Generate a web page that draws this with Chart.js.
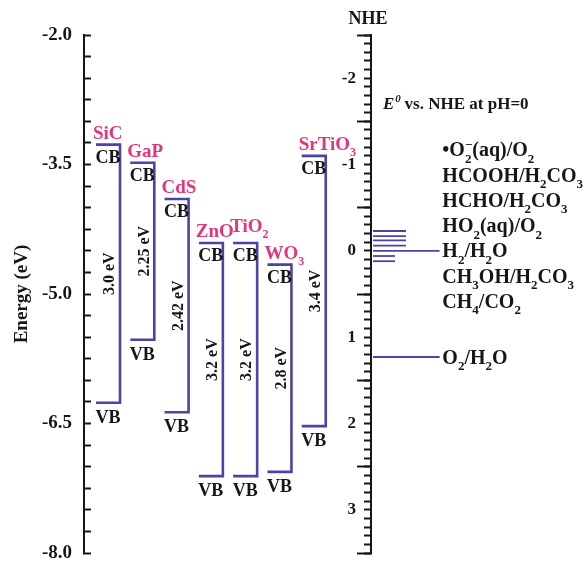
<!DOCTYPE html>
<html>
<head>
<meta charset="utf-8">
<script src="https://cdn.jsdelivr.net/npm/chart.js@4.4.0/dist/chart.umd.min.js"></script>
<style>
  html, body { margin: 0; padding: 0; background: #fff; }
  #wrap { width: 588px; height: 562px; }
</style>
</head>
<body>
<div id="wrap"><canvas id="bands"></canvas></div>
<script>
// band edges (eV vs vacuum)
var materials = ["SiC", "GaP", "CdS", "ZnO", "TiO_2", "WO_3", "SrTiO_3"];
var cbEdge = [-3.27, -3.48, -3.9, -4.41, -4.41, -4.66, -3.4];
var vbEdge = [-6.26, -5.53, -6.37, -7.11, -7.11, -7.06, -6.53];
var gapLabels = ["3.0 eV", "2.25 eV", "2.42 eV", "3.2 eV", "3.2 eV", "2.8 eV", "3.4 eV"];

// redox couples, E0 vs NHE at pH=0
var couples = ["•O_2^−(aq)/O_2", "HCOOH/H_2CO_3", "HCHO/H_2CO_3", "HO_2(aq)/O_2", "H_2/H_2O", "CH_3OH/H_2CO_3", "CH_4/CO_2", "O_2/H_2O"];
var potentials = [-0.23, -0.17, -0.12, -0.06, 0, 0.06, 0.12, 1.23];

var energyTicks = [-2.0, -3.5, -5.0, -6.5, -8.0];
var nheTicks = [-2, -1, 0, 1, 2, 3];

// layout (x in band slots)
var BAND_L = 0.35, BAND_W = 0.7;
var X_NHE = 8.37;
var X_LABEL = 10.45;
var LABEL_STEP = 0.293;

var BLUE = "#4a43a8";
var PINK = "#e4357b";
var INK = "#161616";
var SERIF = "'Liberation Serif', 'Times New Roman', serif";

function parseRich(str) {
  var out = [], i = 0;
  while (i < str.length) {
    var c = str[i];
    if ((c === "_" || c === "^") && i + 1 < str.length) {
      out.push({ t: str[i + 1], k: c === "_" ? "sub" : "sup" });
      i += 2;
    } else {
      if (out.length && out[out.length - 1].k === "n") out[out.length - 1].t += c;
      else out.push({ t: c, k: "n" });
      i++;
    }
  }
  return out;
}

function richText(ctx, str, x, y, size, color, align, subRatio) {
  var parts = parseRich(str);
  var big = "bold " + size + "px " + SERIF;
  var small = "bold " + Math.round(size * (subRatio || 0.62)) + "px " + SERIF;
  var cx = 0;
  parts.forEach(function (p, j) {
    ctx.font = p.k === "n" ? big : small;
    p.w = ctx.measureText(p.t).width;
    var prev = parts[j - 1];
    if (p.k === "sup" && prev && prev.k === "sub") {
      p.x = prev.x;
      cx = Math.max(prev.x + prev.w, p.x + p.w);
    } else {
      p.x = cx;
      cx += p.w;
    }
  });
  var x0 = align === "center" ? x - cx / 2 : align === "right" ? x - cx : x;
  var base = y + size * 0.33;
  ctx.fillStyle = color;
  ctx.textAlign = "left";
  ctx.textBaseline = "alphabetic";
  parts.forEach(function (p) {
    ctx.font = p.k === "n" ? big : small;
    var dy = p.k === "sub" ? size * 0.32 : p.k === "sup" ? -size * 0.38 : 0;
    ctx.fillText(p.t, x0 + p.x, base + dy);
  });
}

var zeroIdx = potentials.indexOf(0);
function labelLevel(i) {
  return Math.abs(potentials[i]) < 0.5 ? (i - zeroIdx) * LABEL_STEP : potentials[i];
}

var bandSets = materials.map(function (m, i) {
  var l = i + BAND_L, r = l + BAND_W;
  return {
    label: m,
    data: [
      { x: l, y: cbEdge[i] },
      { x: r, y: cbEdge[i] },
      { x: r, y: vbEdge[i] },
      { x: l, y: vbEdge[i] },
    ],
    yAxisID: "y",
    borderColor: BLUE,
    borderWidth: 2.6,
    borderJoinStyle: "miter",
    pointRadius: 0,
    fill: false,
    tension: 0,
    clip: false,
  };
});

var redoxSets = couples.map(function (c, i) {
  var v = potentials[i], t = labelLevel(i);
  var pts = [{ x: X_NHE + 0.06, y: v }];
  if (t !== v) pts.push({ x: v < 0 ? 9.39 : 9.07, y: v });
  pts.push({ x: X_LABEL - 0.08, y: t });
  return {
    label: c,
    data: pts,
    yAxisID: "y2",
    borderColor: BLUE,
    borderWidth: 1.8,
    pointRadius: 0,
    fill: false,
    tension: 0,
    clip: false,
  };
});

var annotate = {
  id: "annotate",
  afterDatasetsDraw: function (chart) {
    var ctx = chart.ctx, xs = chart.scales.x, ye = chart.scales.y, yn = chart.scales.y2;
    ctx.save();
    materials.forEach(function (m, i) {
      var l = i + BAND_L, r = l + BAND_W;
      var xl = xs.getPixelForValue(l), xr = xs.getPixelForValue(r), xc = (xl + xr) / 2;
      var yc = ye.getPixelForValue(cbEdge[i]), yv = ye.getPixelForValue(vbEdge[i]);
      richText(ctx, m, xl - 3, yc - (m === "TiO_2" ? 17 : 12), 19, PINK, "left");
      richText(ctx, "CB", xc, yc + 12, 18, INK, "center");
      richText(ctx, "VB", xc, yv + 14, 18, INK, "center");
      ctx.save();
      ctx.translate(xr - 11, (yc + yv) / 2);
      ctx.rotate(-Math.PI / 2);
      richText(ctx, gapLabels[i], 0, 0, 16, INK, "center");
      ctx.restore();
    });

    couples.forEach(function (c, i) {
      richText(ctx, c, xs.getPixelForValue(X_LABEL), yn.getPixelForValue(labelLevel(i)), 20, INK, "left", 0.66);
    });

    var xa = xs.getPixelForValue(X_NHE);
    richText(ctx, "NHE", xa - 3, 18, 18, INK, "center");

    // E0 vs. NHE at pH=0
    var hx = xa + 12, hy = chart.chartArea.top + 70;
    ctx.fillStyle = INK;
    ctx.textBaseline = "middle";
    ctx.textAlign = "left";
    ctx.font = "italic bold 17px " + SERIF;
    ctx.fillText("E", hx, hy);
    var w = ctx.measureText("E").width;
    ctx.font = "italic bold 11px " + SERIF;
    ctx.fillText("0", hx + w + 1, hy - 6);
    ctx.font = "bold 17px " + SERIF;
    ctx.fillText(" vs. NHE at pH=0", hx + w + 6, hy);
    ctx.restore();
  },
};

function noPad(s) { s.paddingTop = 0; s.paddingBottom = 0; }

new Chart(document.getElementById("bands"), {
  type: "line",
  data: { datasets: bandSets.concat(redoxSets) },
  options: {
    responsive: true,
    maintainAspectRatio: false,
    animation: false,
    events: [],
    layout: { padding: { top: 35, bottom: 9, left: 0, right: 0 } },
    plugins: { legend: { display: false }, tooltip: { enabled: false } },
    scales: {
      x: { type: "linear", display: false, min: 0, max: X_NHE },
      y: {
        position: "left",
        min: -8,
        max: -2,
        afterFit: function (s) { s.width = 84; noPad(s); },
        border: { display: true, color: INK, width: 2 },
        grid: { drawOnChartArea: false, tickLength: -7, color: INK, tickWidth: 2 },
        ticks: {
          stepSize: 0.25,
          autoSkip: false,
          maxTicksLimit: 100,
          padding: 19,
          color: INK,
          font: { family: SERIF, size: 19, weight: "bold" },
          callback: function (v) {
            return energyTicks.some(function (t) { return Math.abs(t - v) < 1e-6; }) ? v.toFixed(1) : "";
          },
        },
        title: {
          display: true,
          text: "Energy (eV)",
          color: INK,
          font: { family: SERIF, size: 19, weight: "bold" },
          padding: { top: 11, bottom: 0 },
        },
      },
      y2: {
        position: "right",
        reverse: true,
        min: -2.5,
        max: 3.5,
        afterFit: function (s) { s.width = 588 - 371; noPad(s); },
        border: { display: true, color: INK, width: 2 },
        grid: { drawOnChartArea: false, tickLength: -7, color: INK, tickWidth: 2 },
        ticks: {
          stepSize: 0.1,
          autoSkip: false,
          maxTicksLimit: 100,
          mirror: true,
          padding: -15,
          color: INK,
          font: { family: SERIF, size: 17, weight: "bold" },
          callback: function (v) {
            return nheTicks.some(function (t) { return Math.abs(t - v) < 1e-6; }) ? String(Math.round(v)) : "";
          },
        },
      },
      y3: {
        axis: "y",
        position: { x: X_NHE },
        reverse: true,
        min: -2.5,
        max: 3.5,
        afterFit: noPad,
        border: { display: false },
        grid: { drawOnChartArea: false, tickLength: 14, color: INK, tickWidth: 2 },
        ticks: { stepSize: 1, includeBounds: false, display: false },
      },
    },
  },
  plugins: [annotate],
});
</script>
</body>
</html>
